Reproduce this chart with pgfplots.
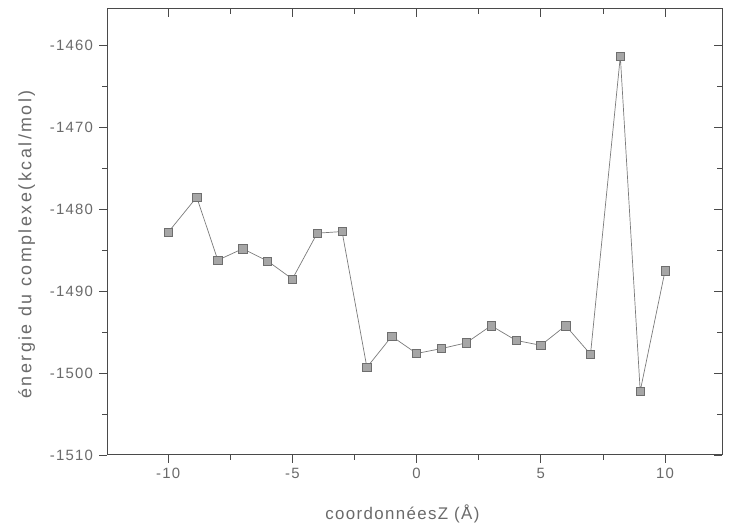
\documentclass[border=0pt]{standalone}
\usepackage{fontspec}
\setmainfont{Liberation Sans}[LetterSpace=8]
\newfontfamily\ylabfont{Liberation Sans}[LetterSpace=14]
\usepackage{pgfplots}
\pgfplotsset{compat=1.18}
\definecolor{inkgray}{HTML}{6A6A6A}
\definecolor{axgray}{HTML}{4A4A4A}
\definecolor{linegray}{HTML}{7A7A7A}
\definecolor{markfill}{HTML}{A6A6A6}
\definecolor{markedge}{HTML}{6E6E6E}

\begin{document}
\begin{tikzpicture}
\pgfplotsset{
  base/.style={
    scale only axis,
    width=619pt, height=449pt,
    xmin=-12.45, xmax=12.3,
    ymin=-1510, ymax=-1455.5,
    axis line style={axgray, line width=1pt},
    minor x tick num=1,
    minor y tick num=1,
    major tick length=8pt,
    minor tick length=5pt,
    every tick/.style={axgray, line width=0.8pt},
  },
}
% top and right ticks point inward
\begin{axis}[base,
    xtick={-10,-5,0,5,10},
    ytick={-1510,-1500,...,-1460},
    tick align=inside,
    xticklabels={}, yticklabels={},
    xtick pos=right, ytick pos=right,
]
\end{axis}
\begin{axis}[base,
    xtick={-10,-5,0,5,10},
    xticklabels={-10,-5,0,5,10},
    ytick={-1510,-1500,-1490,-1480,-1470,-1460},
    yticklabels={-1510,-1500,-1490,-1480,-1470,-1460},
    tick align=outside,
    xtick pos=left, ytick pos=left,
    ticklabel style={font=\fontsize{15}{18}\selectfont, text=inkgray},
    xticklabel style={yshift=-2pt},
    yticklabel style={xshift=-3pt},
    xlabel={coordonnéesZ (Å)},
    ylabel={énergie du complexe(kcal/mol)},
    label style={text=inkgray},
    xlabel style={font=\fontsize{17}{20}\selectfont, at={(axis description cs:0.48,-0.1314)}, anchor=center},
    ylabel style={font=\ylabfont\fontsize{18}{21}\selectfont, at={(axis description cs:-0.131,0.472)}, anchor=center},
]
\addplot[linegray, line width=0.7pt, mark=square*, mark size=4.2pt,
    mark options={fill=markfill, draw=markedge, line width=0.6pt, solid}]
  coordinates {
    (-10,-1482.8) (-8.85,-1478.5) (-8,-1486.2) (-7,-1484.8) (-6,-1486.3)
    (-5,-1488.5) (-4,-1482.9) (-3,-1482.7) (-2,-1499.3) (-1,-1495.5)
    (0,-1497.6) (1,-1497.0) (2,-1496.3) (3,-1494.2) (4,-1496.0)
    (5,-1496.6) (6,-1494.2) (7,-1497.7) (8.2,-1461.3) (9,-1502.2)
    (10,-1487.5)
  };
\end{axis}
\path ([shift={(-108pt,-73pt)}]current axis.south west) rectangle ([shift={(2pt,9pt)}]current axis.north east);
\end{tikzpicture}
\end{document}
